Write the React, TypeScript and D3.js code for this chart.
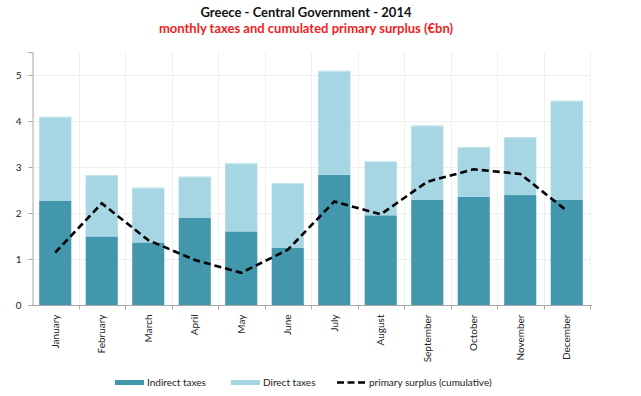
import React, { useRef, useEffect } from "react";
import * as d3 from "d3";

// values (€bn)
const months = ["January", "February", "March", "April", "May", "June", "July", "August", "September", "October", "November", "December"];
const indirectTaxes = [2.27, 1.49, 1.36, 1.90, 1.60, 1.24, 2.83, 1.95, 2.29, 2.35, 2.39, 2.29];
const directTaxes = [1.82, 1.33, 1.19, 0.89, 1.48, 1.41, 2.26, 1.17, 1.61, 1.08, 1.26, 2.15];
const primarySurplus = [1.14, 2.21, 1.41, 0.98, 0.70, 1.20, 2.25, 1.97, 2.68, 2.95, 2.85, 2.05];
const yTicks = [0, 1, 2, 3, 4, 5];

const DARK = "#4297ac";
const LIGHT = "#a6d6e3";
const FONT = "Lato, 'Open Sans', sans-serif";

function App() {
  const svgRef = useRef<SVGSVGElement>(null);
  const width = 641;
  const height = 396;

  useEffect(() => {
    const svg = d3.select(svgRef.current);
    svg.selectAll("*").remove();

    const left = 32, right = 590, top = 52, bottom = 305;

    const x = d3.scaleBand<string>().domain(months).range([left, right]).paddingInner(0.31).paddingOuter(0.155);
    const band = d3.scaleBand<string>().domain(months).range([left, right]);
    const y = d3.scaleLinear().domain([0, 5.5]).range([bottom, top]);

    // grid
    const grid = svg.append("g").attr("stroke", "#efefef").attr("stroke-width", 1);
    yTicks.filter(t => t > 0).forEach(t => {
      grid.append("line").attr("x1", left).attr("x2", right).attr("y1", Math.round(y(t)) + 0.5).attr("y2", Math.round(y(t)) + 0.5);
    });
    months.forEach(m => {
      const bx = Math.round(band(m)! + band.bandwidth()) + 0.5;
      grid.append("line").attr("x1", bx).attr("x2", bx).attr("y1", top).attr("y2", bottom);
    });

    // bars
    const bars = svg.append("g");
    months.forEach((m, i) => {
      const base = indirectTaxes[i];
      bars.append("rect")
        .attr("x", x(m)!).attr("width", x.bandwidth())
        .attr("y", y(base)).attr("height", y(0) - y(base))
        .attr("fill", DARK);
      bars.append("rect")
        .attr("x", x(m)!).attr("width", x.bandwidth())
        .attr("y", y(base + directTaxes[i])).attr("height", y(base) - y(base + directTaxes[i]))
        .attr("fill", LIGHT);
      bars.append("line")
        .attr("x1", x(m)!).attr("x2", x(m)! + x.bandwidth())
        .attr("y1", y(base + directTaxes[i]) + 0.5).attr("y2", y(base + directTaxes[i]) + 0.5)
        .attr("stroke", "#c4e5ee").attr("stroke-width", 1);
    });

    // line
    const line = d3.line<number>()
      .x((_, i) => band(months[i])! + band.bandwidth() / 2)
      .y(d => y(d));
    svg.append("path")
      .datum(primarySurplus)
      .attr("fill", "none")
      .attr("stroke", "#000")
      .attr("stroke-width", 2.6)
      .attr("stroke-dasharray", "7,4")
      .attr("d", line);

    // axes
    const yAxis = svg.append("g").attr("transform", `translate(${left + 0.5},0)`)
      .call(d3.axisLeft(y).tickValues(yTicks).tickFormat(d3.format("d")).tickSize(4).tickPadding(7));
    yAxis.select(".domain").attr("stroke", "#a8a8a8");
    yAxis.selectAll(".tick line").attr("stroke", "#a8a8a8");
    yAxis.selectAll("text").attr("font-family", FONT).attr("font-size", 10).attr("fill", "#222");

    const xAxisG = svg.append("g").attr("transform", `translate(0,${bottom + 0.5})`);
    xAxisG.append("line").attr("x1", left).attr("x2", right + 2).attr("stroke", "#a8a8a8");
    months.forEach(m => {
      const bx = Math.round(band(m)! + band.bandwidth()) + 0.5;
      xAxisG.append("line").attr("x1", bx).attr("x2", bx).attr("y1", 0).attr("y2", 4).attr("stroke", "#a8a8a8");
      const cx = band(m)! + band.bandwidth() / 2;
      xAxisG.append("text")
        .attr("transform", `translate(${cx + 3.5},9) rotate(-90)`)
        .attr("text-anchor", "end")
        .attr("font-family", FONT)
        .attr("font-size", 10)
        .attr("fill", "#222")
        .text(m);
    });

    // titles
    svg.append("text").attr("x", 306).attr("y", 17).attr("text-anchor", "middle")
      .attr("font-family", FONT).attr("font-weight", "bold").attr("font-size", 13).attr("fill", "#111")
      .text("Greece - Central Government - 2014");
    svg.append("text").attr("x", 306).attr("y", 33).attr("text-anchor", "middle")
      .attr("font-family", FONT).attr("font-weight", "bold").attr("font-size", 13).attr("fill", "#f01e1e")
      .text("monthly taxes and cumulated primary surplus (€bn)");

    // legend
    const legend = svg.append("g").attr("font-family", FONT).attr("font-size", 10).attr("fill", "#222");
    const items = [
      { label: "Indirect taxes", x: 115, kind: "rect", color: DARK },
      { label: "Direct taxes", x: 231, kind: "rect", color: LIGHT },
      { label: "primary surplus (cumulative)", x: 337, kind: "line", color: "#000" },
    ];
    items.forEach(it => {
      if (it.kind === "rect") {
        legend.append("rect").attr("x", it.x).attr("y", 380).attr("width", 29).attr("height", 5).attr("fill", it.color);
      } else {
        legend.append("line").attr("x1", it.x).attr("x2", it.x + 28).attr("y1", 382.5).attr("y2", 382.5)
          .attr("stroke", it.color).attr("stroke-width", 2.6).attr("stroke-dasharray", "7,3.5");
      }
      legend.append("text").attr("x", it.x + 32).attr("y", 386).text(it.label);
    });
  }, []);

  return (
    <svg ref={svgRef} width={width} height={height}
      style={{ position: "absolute", left: 0, top: 0, background: "#fff" }} />
  );
}

export default App;
